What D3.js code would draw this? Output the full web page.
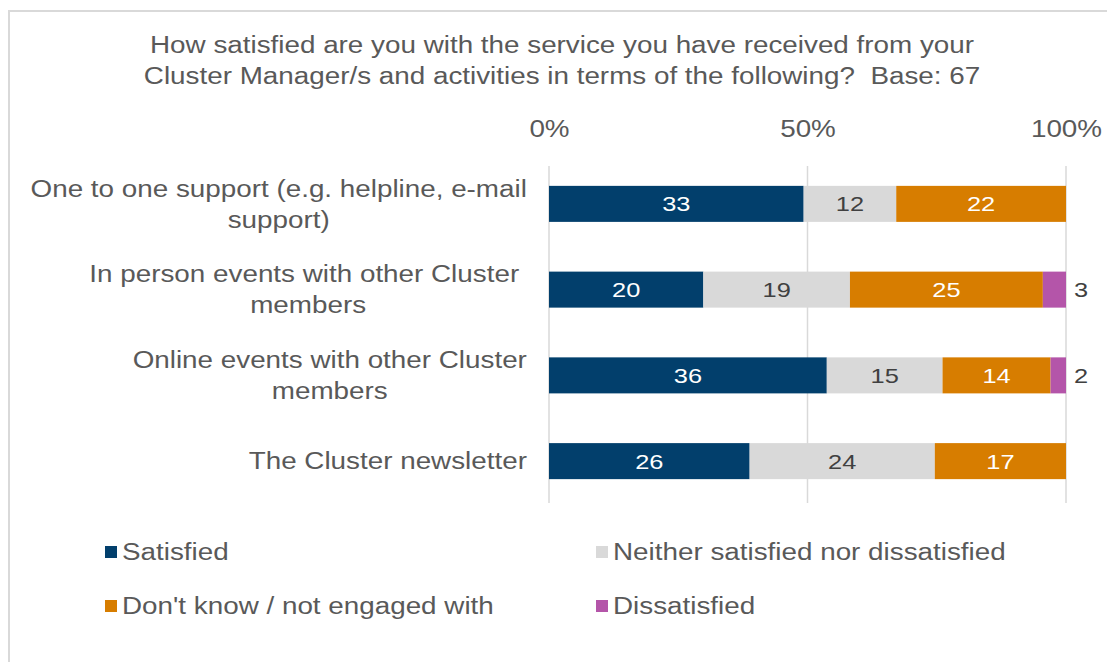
<!DOCTYPE html>
<html>
<head>
<meta charset="utf-8">
<script src="https://cdn.jsdelivr.net/npm/d3@7"></script>
<style>
  html, body { margin: 0; padding: 0; background: #fff; }
  svg { display: block; font-family: "Liberation Sans", Arial, sans-serif; }
  svg text { white-space: pre; }
</style>
</head>
<body>
<svg id="chart" width="1107" height="662"></svg>
<script>
// Survey responses (count of respondents, base 67)
const titleLines = [
  "How satisfied are you with the service you have received from your",
  "Cluster Manager/s and activities in terms of the following?  Base: 67"
];
const categories = [
  ["One to one support (e.g. helpline, e-mail", "support)"],
  ["In person events with other Cluster ", "members"],
  ["Online events with other Cluster", "members"],
  ["The Cluster newsletter"]
];
const seriesNames = ["Satisfied", "Neither satisfied nor dissatisfied", "Don't know / not engaged with", "Dissatisfied"];
const satisfied    = [33, 20, 36, 26];
const neither      = [12, 19, 15, 24];
const dontKnow     = [22, 25, 14, 17];
const dissatisfied = [0, 3, 2, 0];
const tickValues = [0, 0.5, 1];
const tickLabels = ["0%", "50%", "100%"];

const colors = ["#023f6c", "#d9d9d9", "#d77d00", "#b455a9"];
const labelColors = ["#ffffff", "#404040", "#ffffff", "#404040"];
const textGray = "#595959";
const SX = 1.21; // horizontal text stretch

const svg = d3.select("#chart");
const place = (x, y) => `translate(${x},${y}) scale(${SX},1)`;

// frame around the chart area
svg.append("rect")
  .attr("x", 9).attr("y", 11).attr("width", 1110).attr("height", 660)
  .attr("fill", "none").attr("stroke", "#d9d9d9").attr("stroke-width", 2);

// title
svg.append("g").selectAll("text").data(titleLines).join("text")
  .attr("text-anchor", "middle")
  .attr("fill", textGray)
  .style("font-size", "23px")
  .attr("transform", (d, i) => place(562, 53 + i * 31))
  .text(d => d);

const rows = categories.map((c, i) => ({
  idx: i,
  values: [satisfied[i], neither[i], dontKnow[i], dissatisfied[i]]
}));

const x = d3.scaleLinear().domain([0, 1]).range([549, 1066]);
const y = d3.scaleBand().domain(d3.range(categories.length)).range([161, 504]).paddingInner(0.58).paddingOuter(0.29);

// vertical gridlines
svg.append("g").selectAll("line").data(tickValues).join("line")
  .attr("x1", d => x(d)).attr("x2", d => x(d))
  .attr("y1", 166).attr("y2", 503)
  .attr("stroke", "#d9d9d9").attr("stroke-width", 1.5);

// top axis tick labels
const axis = d3.axisTop(x).tickValues(tickValues).tickFormat((d, i) => tickLabels[i]).tickSize(0).tickPadding(0);
const axisG = svg.append("g").attr("transform", "translate(0,137)").call(axis);
axisG.select(".domain").remove();
axisG.selectAll("text")
  .attr("fill", textGray)
  .attr("y", 0).attr("dy", 0)
  .attr("transform", `scale(${SX},1)`)
  .style("font-size", "23px")
  .style("font-family", "'Liberation Sans', Arial, sans-serif");

// stacked segments
const segs = rows.flatMap(r => {
  const total = d3.sum(r.values);
  let acc = 0;
  return r.values.map((v, k) => {
    const seg = { row: r.idx, k, v, x0: acc / total, x1: (acc + v) / total };
    acc += v;
    return seg;
  });
}).filter(d => d.v > 0);

svg.append("g").selectAll("rect").data(segs).join("rect")
  .attr("x", d => x(d.x0))
  .attr("width", d => x(d.x1) - x(d.x0))
  .attr("y", d => y(d.row))
  .attr("height", y.bandwidth())
  .attr("fill", d => colors[d.k]);

// value labels (small "Dissatisfied" slices are labelled beside the bar)
svg.append("g").selectAll("text").data(segs).join("text")
  .attr("transform", d => place(
    d.k === 3 ? x(d.x1) + 8 : (x(d.x0) + x(d.x1)) / 2,
    y(d.row) + y.bandwidth() / 2))
  .attr("dy", "0.36em")
  .attr("text-anchor", d => d.k === 3 ? "start" : "middle")
  .attr("fill", d => labelColors[d.k])
  .style("font-size", "21px")
  .text(d => d.v);

// category labels: block right-aligned, lines centred on each other
const catG = svg.append("g").attr("fill", textGray).style("font-size", "23px");
categories.forEach((lines, i) => {
  const g = catG.append("g");
  const t = g.append("text").attr("text-anchor", "middle");
  const tsp = t.selectAll("tspan").data(lines).join("tspan").text(d => d);
  let maxW = 0;
  tsp.each(function () { maxW = Math.max(maxW, this.getComputedTextLength()); });
  const cx = 527 - (maxW * SX) / 2;
  const lh = 31;
  const cy = y(i) + y.bandwidth() / 2;
  g.attr("transform", place(cx, cy));
  tsp.attr("x", 0)
    .attr("y", (d, j) => (j - (lines.length - 1) / 2) * lh)
    .attr("dy", "0.36em");
});

// legend
const legendPos = [
  { x: 105, y: 552 }, { x: 596, y: 552 },
  { x: 105, y: 606 }, { x: 596, y: 606 }
];
const legG = svg.append("g").selectAll("g").data(seriesNames).join("g")
  .attr("transform", (d, i) => `translate(${legendPos[i].x},${legendPos[i].y})`);
legG.append("rect")
  .attr("x", 0).attr("y", -6).attr("width", 12).attr("height", 12)
  .attr("fill", (d, i) => colors[i]);
legG.append("text")
  .attr("transform", place(17, 0))
  .attr("dy", "0.36em")
  .attr("fill", textGray)
  .style("font-size", "23px")
  .text(d => d);
</script>
</body>
</html>
